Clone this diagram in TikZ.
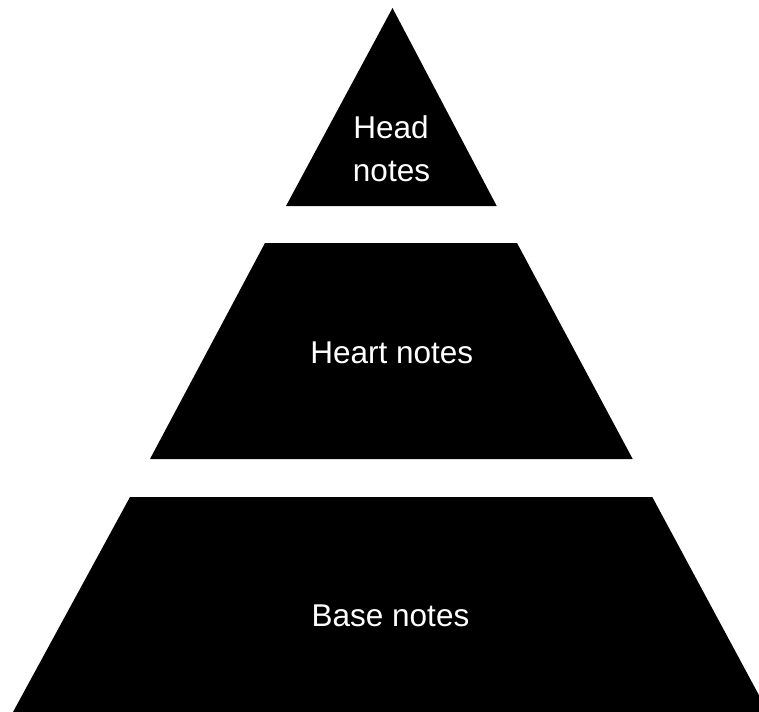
\documentclass[tikz,border=0pt]{standalone}
\usepackage{fontspec}
\newfontfamily\labelfont{Liberation Sans}
\begin{document}
\begin{tikzpicture}[x=1bp,y=-1bp,
  tier/.style={fill=black,draw=none},
  lbl/.style={text=white,font=\labelfont\fontsize{31.5bp}{36bp}\selectfont,inner sep=0pt,anchor=base}]
\useasboundingbox (0,0) rectangle (759,712);
\clip (0,0) rectangle (759,712);
\fill[white] (0,0) rectangle (759,712);
% tiers
\path[tier] (392.5,8) -- (496.7,206) -- (286,206) -- cycle;
\path[tier] (265,243) -- (517,243) -- (632.7,459) -- (150,459) -- cycle;
\path[tier] (130,497) -- (652.3,497) -- (768,712) -- (13,712) -- cycle;
% labels
\node[lbl] (headA) at (391,138.5) {Head};
\node[lbl] (headB) at (391.5,181.7) {notes};
\node[lbl] (heart) at (391.7,363.3) {Heart notes};
\node[lbl] (base) at (390.5,626.7) {Base notes};
\end{tikzpicture}
\end{document}
